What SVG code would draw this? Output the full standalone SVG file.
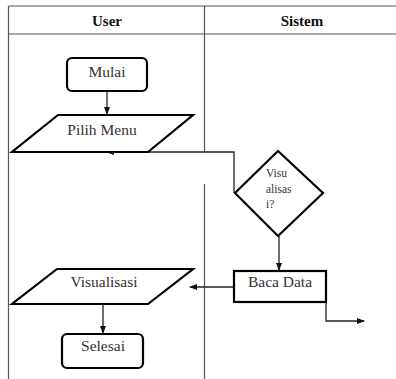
<svg xmlns="http://www.w3.org/2000/svg" width="396" height="379" viewBox="0 0 396 379">
<style>
.t{font-family:"Liberation Serif","Times New Roman",Times,serif;fill:#333;text-anchor:middle}
.h{font-size:15px;font-weight:bold;fill:#111}
.n{font-size:15.5px}
.d{font-size:11.5px;text-anchor:start}
.s{fill:#fff;stroke:#000;stroke-width:2.2}
.grid{stroke:#555;stroke-width:1.2;fill:none}
.c{stroke:#222;stroke-width:1.3;fill:none}
</style>
<defs>
<marker id="a" markerWidth="8" markerHeight="6" refX="7" refY="3" orient="auto" markerUnits="userSpaceOnUse">
<path d="M0,0 L8,3 L0,6 Z" fill="#111"/>
</marker>
</defs>
<g id="table">
<line class="grid" x1="8.5" y1="6" x2="396" y2="6"/>
<line class="grid" x1="8.5" y1="34" x2="396" y2="34"/>
<line class="grid" x1="8.5" y1="6" x2="8.5" y2="379"/>
<line class="grid" x1="204.5" y1="6" x2="204.5" y2="152"/>
<line class="grid" x1="204.5" y1="184" x2="204.5" y2="379"/>
<text class="t h" x="107" y="26">User</text>
<text class="t h" x="302" y="26">Sistem</text>
</g>
<g id="connectors">
<line class="c" x1="107" y1="91" x2="107" y2="114" marker-end="url(#a)"/>
<polyline class="c" points="234,193 234,152 107,152" marker-end="url(#a)"/>
<line class="c" x1="279" y1="236" x2="279" y2="270" marker-end="url(#a)"/>
<line class="c" x1="234" y1="287" x2="190" y2="287" marker-end="url(#a)"/>
<polyline class="c" points="326,302 326,321 364,321" marker-end="url(#a)"/>
<line class="c" x1="103" y1="304" x2="103" y2="333" marker-end="url(#a)"/>
</g>
<g id="mulai">
<rect class="s" x="67" y="58" width="80" height="33" rx="5"/>
<text class="t n" x="107" y="77">Mulai</text>
</g>
<g id="pilih-menu">
<polygon class="s" points="58,115 193,115 148,152 12,152"/>
<text class="t n" x="102" y="135">Pilih Menu</text>
</g>
<g id="visualisasi-decision">
<polygon class="s" points="278,151 323,193 278,236 235,193"/>
<text class="t d" x="266" y="177">Visu</text>
<text class="t d" x="266" y="193">alisas</text>
<text class="t d" x="266" y="208">i?</text>
</g>
<g id="baca-data">
<rect class="s" x="234" y="271" width="92" height="31"/>
<text class="t n" x="280" y="287">Baca Data</text>
</g>
<g id="visualisasi">
<polygon class="s" points="57,269 193,269 148,304 12,304"/>
<text class="t n" x="104" y="287">Visualisasi</text>
</g>
<g id="selesai">
<rect class="s" x="62" y="334" width="81" height="34" rx="5"/>
<text class="t n" x="103" y="351">Selesai</text>
</g>
</svg>
